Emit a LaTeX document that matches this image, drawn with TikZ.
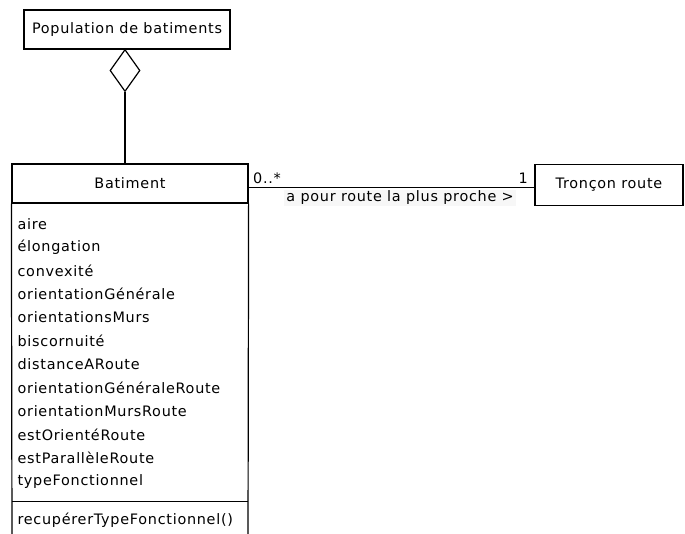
\documentclass[tikz,border=0pt]{standalone}
\usepackage{fontspec}
\setmainfont{DejaVu Sans}[LetterSpace=5]
\usetikzlibrary{shapes.geometric}
\begin{document}
\begin{tikzpicture}[x=1pt,y=-1pt,
  font=\fontsize{14.4pt}{17pt}\selectfont,
  line width=1.2pt,
  umlbox/.style={draw, rectangle, inner sep=0pt, align=center},
  attr/.style={anchor=west, inner sep=0pt},
  lbl/.style={inner sep=0pt}]
\useasboundingbox (0,0) rectangle (685,534);
\clip (0,0) rectangle (685,534);
% Population
\node[umlbox, minimum width=206pt, minimum height=39pt] (pop) at (127,29.5) {Population de batiments};
% diamond
\node[draw, diamond, aspect=0.714, minimum width=30pt, minimum height=42pt, inner sep=0pt] (dia) at (125,70.5) {};
% Batiment header
\node[umlbox, minimum width=236pt, minimum height=39pt] (bat) at (130,183.5) {Batiment};
\coordinate (bbl) at (12,545);
\coordinate (bbr) at (248,545);
\draw (bat.south west) -- (bbl);
\draw (bat.south east) -- (bbr);
\coordinate (sepl) at (12,501.5);
\coordinate (sepr) at (248,501.5);
\draw (sepl) -- (sepr);
% attributes
\node[attr] (a1) at (17,224) {aire};
\node[attr] (a2) at (17,247.4) {élongation};
\node[attr] (a3) at (17,270.8) {convexité};
\node[attr] (a4) at (17,294.2) {orientationGénérale};
\node[attr] (a5) at (17,317.6) {orientationsMurs};
\node[attr] (a6) at (17,341) {biscornuité};
\node[attr] (a7) at (17,364.4) {distanceARoute};
\node[attr] (a8) at (17,387.8) {orientationGénéraleRoute};
\node[attr] (a9) at (17,411.2) {orientationMursRoute};
\node[attr] (a10) at (17,434.6) {estOrientéRoute};
\node[attr] (a11) at (17,458) {estParallèleRoute};
\node[attr] (a12) at (17,481.4) {typeFonctionnel};
\node[attr] (m1) at (17,520.5) {recupérerTypeFonctionnel()};
% Troncon route
\node[umlbox, minimum width=148pt, minimum height=41.4pt] (tron) at (609,185) {Tronçon route};
% aggregation connector
\draw (dia.south) -- (dia.south |- bat.north);
% association
\coordinate (assocy) at (0,187.5);
\draw (bat.east |- assocy) --
  node[pos=0.53, lbl, anchor=north, yshift=-1.5pt, fill=black!3, inner xsep=2pt, inner ysep=1pt] (assoc) {a pour route la plus proche >}
  (tron.west |- assocy);
\node[lbl, anchor=south west] (m0) at ([xshift=4pt,yshift=3pt]bat.east |- assocy) {0..*};
\node[lbl, anchor=south east] (m1r) at ([xshift=-6pt,yshift=3pt]tron.west |- assocy) {1};
\end{tikzpicture}
\end{document}
